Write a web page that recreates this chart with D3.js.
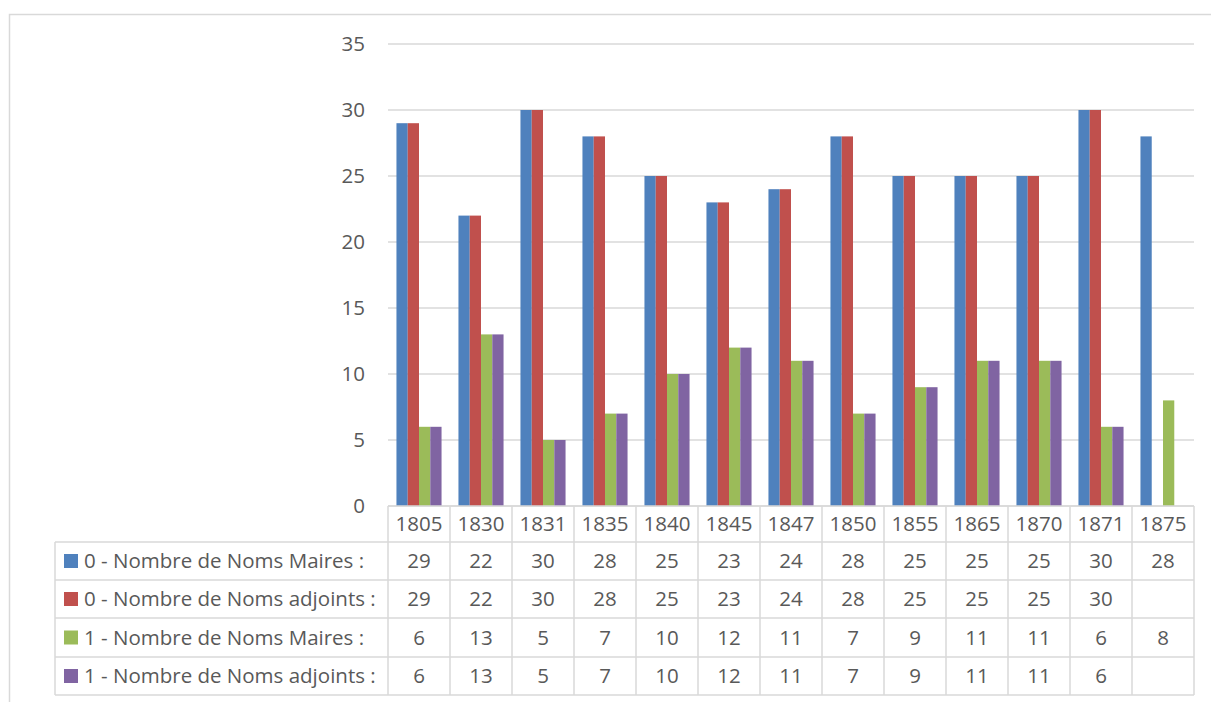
<!DOCTYPE html>
<html>
<head>
<meta charset="utf-8">
<script src="https://cdn.jsdelivr.net/npm/d3@7"></script>
<style>
  html, body { margin: 0; padding: 0; background: #fff; }
  svg { display: block; }
  text { font-family: "Open Sans", "Noto Sans", sans-serif; fill: #595959; }
</style>
</head>
<body>
<svg id="chart" width="1211" height="702"></svg>
<script>
// Years shown on the category axis
const years = ["1805","1830","1831","1835","1840","1845","1847","1850","1855","1865","1870","1871","1875"];

// Series values (null = no value for that year)
const maires0   = [29,22,30,28,25,23,24,28,25,25,25,30,28];
const adjoints0 = [29,22,30,28,25,23,24,28,25,25,25,30,null];
const maires1   = [6,13,5,7,10,12,11,7,9,11,11,6,8];
const adjoints1 = [6,13,5,7,10,12,11,7,9,11,11,6,null];

const seriesNames = [
  "0 - Nombre de Noms Maires :",
  "0 - Nombre de Noms adjoints :",
  "1 - Nombre de Noms Maires :",
  "1 - Nombre de Noms adjoints :"
];
const seriesColors = ["#4f81bd", "#c0504d", "#9bbb59", "#8064a2"];
const yTicks = [0, 5, 10, 15, 20, 25, 30, 35];

const series = [maires0, adjoints0, maires1, adjoints1].map((values, i) => ({
  name: seriesNames[i], color: seriesColors[i], values
}));

const svg = d3.select("#chart");
const grey = "#d9d9d9";
const fs = 20.5;

// outer chart-area frame
svg.append("rect")
  .attr("x", 9.5).attr("y", 14.5)
  .attr("width", 1300).attr("height", 800)
  .attr("fill", "none").attr("stroke", grey).attr("stroke-width", 1.5);

const plotLeft = 388, plotRight = 1194, plotTop = 44, plotBottom = 506;

const x = d3.scaleBand().domain(years).range([plotLeft, plotRight]).padding(0);
const xs = d3.scaleBand().domain(d3.range(4)).range([0, x.bandwidth()])
  .paddingInner(0).paddingOuter(0.75);
const y = d3.scaleLinear().domain([0, 35]).range([plotBottom, plotTop]);

// horizontal gridlines
svg.append("g").selectAll("line").data(yTicks).join("line")
  .attr("x1", plotLeft).attr("x2", plotRight)
  .attr("y1", d => y(d)).attr("y2", d => y(d))
  .attr("stroke", grey).attr("stroke-width", 1.5);

// y axis labels
const yAxis = d3.axisLeft(y).tickValues(yTicks).tickSize(0).tickPadding(0);
const gy = svg.append("g").attr("transform", `translate(365,0)`).call(yAxis);
gy.select(".domain").remove();
gy.selectAll("text")
  .attr("font-size", fs).attr("fill", "#595959")
  .style("font-family", "'Open Sans', 'Noto Sans', sans-serif");

// bars
series.forEach((s, si) => {
  svg.append("g").selectAll("rect")
    .data(s.values.map((v, i) => ({ year: years[i], v })).filter(d => d.v !== null))
    .join("rect")
    .attr("x", d => x(d.year) + xs(si))
    .attr("width", xs.bandwidth())
    .attr("y", d => y(d.v))
    .attr("height", d => y(0) - y(d.v))
    .attr("fill", s.color);
});

// data table below the plot
const tableLeft = 55;
const headerTop = 506, headerBottom = 542;
const rowEdges = [542, 580, 618, 657, 695];
const tbl = svg.append("g");

// header row (years)
tbl.append("line").attr("x1", plotLeft).attr("x2", plotRight)
  .attr("y1", headerTop).attr("y2", headerTop).attr("stroke", grey).attr("stroke-width", 1.5);
tbl.selectAll("text.year").data(years).join("text")
  .attr("class", "year")
  .attr("x", d => x(d) + x.bandwidth() / 2)
  .attr("y", (headerTop + headerBottom) / 2)
  .attr("dy", "0.35em")
  .attr("text-anchor", "middle")
  .attr("font-size", fs)
  .text(d => d);

// horizontal row lines
tbl.selectAll("line.row").data(rowEdges).join("line")
  .attr("class", "row")
  .attr("x1", tableLeft).attr("x2", plotRight)
  .attr("y1", d => d).attr("y2", d => d)
  .attr("stroke", grey).attr("stroke-width", 1.5);

// vertical lines
const colEdges = years.map(d => x(d)).concat([plotRight]);
tbl.selectAll("line.col").data(colEdges).join("line")
  .attr("class", "col")
  .attr("x1", d => d).attr("x2", d => d)
  .attr("y1", headerTop).attr("y2", rowEdges[rowEdges.length - 1])
  .attr("stroke", grey).attr("stroke-width", 1.5);
tbl.append("line")
  .attr("x1", tableLeft).attr("x2", tableLeft)
  .attr("y1", rowEdges[0]).attr("y2", rowEdges[rowEdges.length - 1])
  .attr("stroke", grey).attr("stroke-width", 1.5);

// legend keys and row values
series.forEach((s, si) => {
  const top = rowEdges[si], bottom = rowEdges[si + 1];
  const cy = (top + bottom) / 2;
  tbl.append("rect")
    .attr("x", 64).attr("y", cy - 7)
    .attr("width", 14).attr("height", 14)
    .attr("fill", s.color);
  tbl.append("text")
    .attr("x", 84).attr("y", cy).attr("dy", "0.35em")
    .attr("font-size", fs)
    .text(s.name);
  tbl.append("g").selectAll("text")
    .data(s.values.map((v, i) => ({ year: years[i], v })).filter(d => d.v !== null))
    .join("text")
    .attr("x", d => x(d.year) + x.bandwidth() / 2)
    .attr("y", cy).attr("dy", "0.35em")
    .attr("text-anchor", "middle")
    .attr("font-size", fs)
    .text(d => d.v);
});
</script>
</body>
</html>
